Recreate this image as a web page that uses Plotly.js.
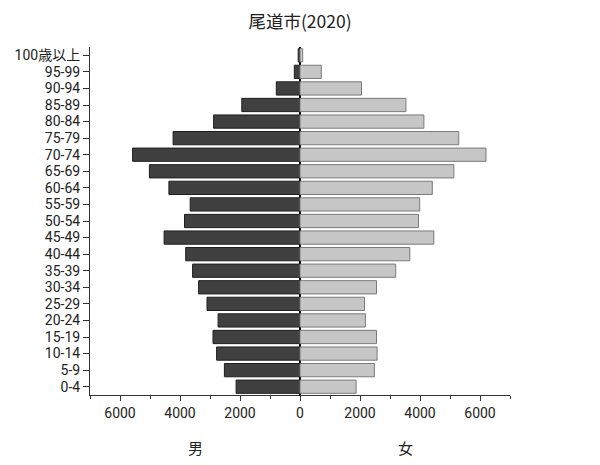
<!DOCTYPE html>
<html><head><meta charset="utf-8">
<script src="https://cdn.plot.ly/plotly-3.0.1.min.js"></script>
<style>html,body{margin:0;padding:0;background:#fff}#c{width:600px;height:465px}</style>
</head><body><div id="c"></div>
<script>
const ages = ["0-4","5-9","10-14","15-19","20-24","25-29","30-34","35-39","40-44","45-49","50-54","55-59","60-64","65-69","70-74","75-79","80-84","85-89","90-94","95-99","100歳以上"];
const male = [2130,2520,2780,2900,2730,3100,3380,3580,3810,4530,3850,3660,4370,5020,5580,4230,2880,1940,790,190,60];
const female = [1870,2480,2570,2550,2180,2150,2550,3190,3660,4460,3950,3990,4410,5130,6200,5290,4130,3530,2050,710,90];
const xTickVals = [-6000,-4000,-2000,0,2000,4000,6000];
const xTickText = ["6000","4000","2000","0","2000","4000","6000"];
const sexLabels = ["男","女"];
const font = '"Noto Sans CJK JP","Noto Sans",sans-serif';
const tickFont = 'Roboto,"Noto Sans CJK JP",sans-serif';

const traces = [
  {type:'bar', orientation:'h', y:ages, x:male.map(v=>-v), name:sexLabels[0],
   marker:{color:'#404040', line:{color:'#1e1e1e', width:1}}, hoverinfo:'skip'},
  {type:'bar', orientation:'h', y:ages, x:female, name:sexLabels[1],
   marker:{color:'#c6c6c6', line:{color:'#7a7a7a', width:1}}, hoverinfo:'skip'}
];
const layout = {
  width:600, height:465,
  margin:{l:90, r:90, t:47, b:70},
  paper_bgcolor:'#fff', plot_bgcolor:'#fff',
  font:{family:font, size:13.5, color:'#222'},
  title:{text:'尾道市(2020)', x:0.5, xanchor:'center', y:0.952, yanchor:'middle', font:{size:17.5, family:font, color:'#222'}},
  showlegend:false,
  barmode:'relative', bargap:0.2,
  xaxis:{range:[-7000,7000], tickmode:'array', tickvals:xTickVals, ticktext:xTickText,
    ticks:'outside', ticklen:5, tickcolor:'#333', showline:true, linecolor:'#333', linewidth:1,
    showgrid:false, zeroline:true, zerolinecolor:'#000', zerolinewidth:1.5, layer:'above traces',
    minor:{tickvals:[-7000,-5000,-3000,-1000,1000,3000,5000,7000], ticks:'outside', ticklen:3, tickcolor:'#333'},
    tickfont:{size:14, family:tickFont}, fixedrange:true},
  yaxis:{type:'category', range:[-0.5,20.5], tickmode:'array', tickvals:ages, ticktext:ages,
    ticks:'outside', ticklen:6, tickcolor:'#333',
    showline:true, linecolor:'#333', linewidth:1, showgrid:false, tickfont:{size:14, family:tickFont}, fixedrange:true},
  annotations:[
    {text:sexLabels[0], xref:'x', yref:'paper', x:-3500, y:-0.15, showarrow:false, font:{size:15}, yanchor:'middle'},
    {text:sexLabels[1], xref:'x', yref:'paper', x:3500, y:-0.15, showarrow:false, font:{size:15}, yanchor:'middle'}
  ]
};
Plotly.newPlot('c', traces, layout, {staticPlot:true});
</script></body></html>
